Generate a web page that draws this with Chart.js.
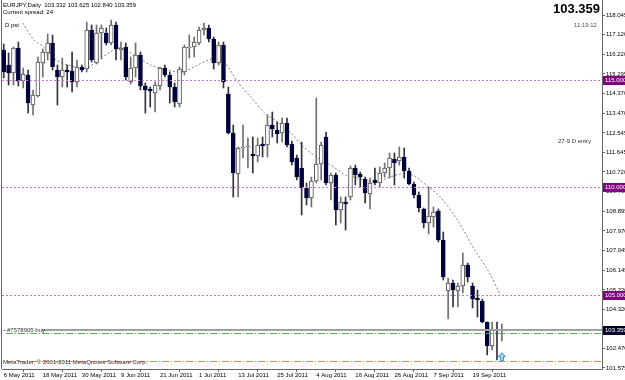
<!DOCTYPE html>
<html>
<head>
<meta charset="utf-8">
<script src="https://cdn.jsdelivr.net/npm/chart.js@4.4.0/dist/chart.umd.min.js"></script>
<style>
  html, body { margin: 0; padding: 0; background: #fff; }
  #wrap { width: 625px; height: 380px; }
</style>
</head>
<body>
<div id="wrap"><canvas id="chart" width="625" height="380"></canvas></div>
<script>
// daily bars, EURJPY, 6 May 2011 -> 22 Sep 2011 (bar index 0..102)
const tickLabels = ['6 May 2011', '18 May 2011', '30 May 2011', '9 Jun 2011', '21 Jun 2011', '1 Jul 2011',
  '13 Jul 2011', '25 Jul 2011', '4 Aug 2011', '16 Aug 2011', '26 Aug 2011', '7 Sep 2011', '19 Sep 2011'];
const tickBars = [0, 8, 16, 24, 32, 40, 48, 56, 64, 72, 80, 88, 96];

const opens = [116.412, 115.712, 115.339, 116.505, 114.965, 115.246, 113.846, 114.266, 115.805, 116.272,
  116.739, 115.479, 115.152, 115.479, 115.432, 114.919, 115.619, 115.526, 117.345, 115.805,
  117.205, 117.205, 116.739, 117.579, 116.412, 116.552, 114.919, 115.572, 116.179, 114.732,
  114.592, 114.406, 114.732, 115.572, 115.246, 114.686, 113.892, 115.386, 116.505, 116.552,
  116.739, 117.345, 117.438, 116.925, 115.805, 116.645, 114.359, 112.539, 110.626, 111.839,
  111.886, 111.559, 111.466, 112.026, 111.979, 112.912, 112.679, 112.539, 113.006, 112.026,
  111.373, 110.906, 109.973, 109.506, 110.300, 111.093, 112.353, 110.206, 110.579, 108.946,
  109.320, 109.553, 110.906, 110.626, 110.393, 109.693, 110.346, 110.206, 110.673, 110.906,
  111.326, 111.233, 111.419, 110.766, 110.160, 109.646, 108.993, 108.340, 108.620, 108.900,
  107.547, 105.167, 105.540, 105.167, 105.400, 106.380, 105.400, 104.840, 104.700, 103.721,
  102.601, 103.347, 103.332];
const highs = [116.692, 116.272, 116.552, 116.785, 115.572, 115.479, 114.546, 116.085, 116.459, 117.159,
  117.112, 115.712, 116.039, 115.712, 116.319, 115.945, 115.712, 117.718, 117.579, 117.579,
  117.579, 117.438, 117.812, 117.718, 116.785, 116.739, 116.085, 116.739, 116.319, 114.872,
  114.686, 114.919, 115.619, 115.712, 115.386, 114.872, 115.619, 116.645, 117.112, 117.019,
  117.485, 117.672, 117.579, 117.019, 116.785, 116.785, 114.686, 112.912, 111.886, 112.912,
  112.306, 112.353, 112.306, 112.353, 113.379, 113.519, 113.052, 113.239, 113.239, 112.166,
  111.513, 112.119, 110.206, 110.486, 114.172, 112.119, 112.586, 110.673, 110.673, 109.553,
  109.553, 111.000, 111.046, 110.720, 110.486, 110.439, 110.906, 110.953, 111.139, 111.606,
  111.606, 111.886, 111.839, 110.906, 110.253, 109.786, 109.040, 110.020, 109.086, 108.993,
  107.920, 105.774, 105.681, 105.540, 106.940, 106.474, 105.540, 105.214, 104.794, 103.721,
  103.721, 103.721, 103.625];
const lows = [115.106, 114.779, 114.779, 114.732, 114.639, 113.472, 113.379, 114.219, 115.152, 115.945,
  115.479, 113.846, 114.686, 114.686, 114.452, 114.686, 115.386, 115.386, 115.852, 115.759,
  116.000, 116.645, 116.645, 115.945, 115.945, 115.012, 114.826, 115.152, 114.546, 113.472,
  113.752, 113.519, 114.546, 115.152, 113.939, 113.752, 113.752, 115.246, 116.039, 116.085,
  116.645, 117.112, 116.785, 115.526, 115.712, 114.639, 112.492, 109.553, 109.553, 111.373,
  110.906, 110.673, 111.186, 111.419, 111.419, 112.353, 112.073, 112.119, 111.886, 111.046,
  110.346, 108.713, 109.180, 109.086, 110.206, 110.346, 110.113, 109.413, 108.247, 108.340,
  108.013, 109.413, 110.113, 110.020, 109.273, 108.993, 110.113, 110.020, 110.486, 110.439,
  110.113, 111.046, 110.439, 110.113, 109.506, 108.853, 108.107, 107.827, 108.153, 107.453,
  105.681, 103.860, 104.420, 104.420, 105.074, 105.587, 104.374, 103.954, 103.674, 102.181,
  102.414, 101.948, 102.840];
const closes = [115.386, 115.339, 116.505, 114.965, 115.292, 113.939, 114.312, 115.852, 116.319, 116.739,
  115.619, 115.152, 115.479, 115.386, 114.919, 115.619, 115.479, 117.345, 115.945, 117.205,
  117.438, 116.739, 117.579, 116.459, 116.505, 115.152, 115.572, 116.179, 114.732, 114.546,
  114.499, 114.779, 115.572, 115.246, 114.686, 113.986, 115.526, 116.552, 116.552, 116.785,
  117.345, 117.438, 116.925, 115.805, 116.645, 114.919, 112.539, 110.673, 111.839, 111.886,
  111.932, 111.466, 111.979, 111.932, 112.912, 112.726, 112.492, 113.006, 111.979, 111.186,
  110.486, 109.973, 109.506, 110.300, 111.093, 111.979, 110.206, 110.579, 108.946, 109.320,
  109.226, 110.906, 110.579, 110.486, 109.740, 110.206, 110.206, 110.673, 110.906, 111.373,
  111.139, 111.419, 110.766, 110.160, 109.646, 109.040, 108.340, 108.666, 108.853, 107.547,
  105.820, 105.540, 105.214, 105.400, 106.380, 105.820, 104.794, 104.747, 103.721, 102.601,
  103.347, 103.301, 103.359];

// dotted "D pst" curve (bar position, price)
const maBars = [3.9, 6.2, 8.2, 10.7, 13.2, 15.8, 17.2, 19.3, 21.9, 23.6, 26.7, 30.1, 33.6, 35.2, 36.9,
  39.7, 42.4, 44.5, 46.1, 47.9, 50.6, 53.2, 56.1, 58.8, 61.4, 64.3, 66.9, 70.0, 71.7, 75.7,
  78.6, 81.3, 83.7, 87.0, 89.4, 92.9, 96.2, 99.1, 101.7];
const maVals = [117.67, 116.88, 116.55, 115.95, 115.71, 115.57, 115.57, 115.95, 116.32, 116.51, 116.18,
  115.71, 115.48, 115.39, 115.39, 115.71, 115.99, 116.04, 115.57, 114.92, 114.22, 113.52, 113.05,
  112.54, 111.89, 111.37, 111.05, 110.58, 110.49, 110.25, 110.44, 110.63, 110.58, 110.02, 109.55,
  108.48, 107.17, 106.15, 104.98];

const priceTicks = [118.045, 117.120, 116.220, 115.295, 114.370, 113.470, 112.545, 111.645, 110.720,
  109.795, 108.895, 107.970, 107.045, 106.145, 105.220, 104.320, 103.395, 102.470, 101.575];
const levels = [115.000, 110.000, 105.000];
const bidPrice = 103.359;
const orderPrice = 103.359;
const takeLevel = 103.207;
const stopLevel = 101.901;

const bull = closes.map((c, i) => c >= opens[i]);

const overlay = {
  id: 'overlay',
  afterDatasetsDraw(chart) {
    const { ctx, chartArea: a, scales: { x, y } } = chart;
    ctx.save();
    // frame on the left
    ctx.strokeStyle = '#666';
    ctx.lineWidth = 1;
    ctx.beginPath(); ctx.moveTo(1.5, 0); ctx.lineTo(1.5, a.bottom); ctx.stroke();

    // horizontal levels
    ctx.strokeStyle = '#cc77cc';
    ctx.setLineDash([2, 2]);
    levels.forEach(v => {
      const py = Math.round(y.getPixelForValue(v)) + 0.5;
      ctx.beginPath(); ctx.moveTo(a.left, py); ctx.lineTo(a.right, py); ctx.stroke();
    });

    // order line and its stops
    let py = Math.round(y.getPixelForValue(takeLevel)) + 0.5;
    ctx.strokeStyle = '#55b055';
    ctx.setLineDash([7, 2, 1, 2]);
    ctx.beginPath(); ctx.moveTo(a.left + 4, py); ctx.lineTo(a.right, py); ctx.stroke();
    py = Math.round(y.getPixelForValue(stopLevel)) + 0.5;
    ctx.strokeStyle = '#f08050';
    ctx.beginPath(); ctx.moveTo(a.left + 4, py); ctx.lineTo(a.right, py); ctx.stroke();
    py = Math.round(y.getPixelForValue(orderPrice));
    ctx.setLineDash([]);
    ctx.strokeStyle = '#a0a0a0';
    ctx.lineWidth = 2;
    ctx.beginPath(); ctx.moveTo(42, py); ctx.lineTo(a.right, py); ctx.stroke();
    ctx.lineWidth = 1;
    ctx.beginPath(); ctx.moveTo(3, py + 0.5); ctx.lineTo(6, py + 0.5); ctx.stroke();

    ctx.font = '6px "Liberation Sans", Arial, sans-serif';
    ctx.textBaseline = 'middle';
    ctx.fillStyle = '#333';
    ctx.fillText('#7578905 buy', 7, py);

    // price boxes on the axis
    const box = (v, bg) => {
      const by = Math.round(y.getPixelForValue(v));
      ctx.fillStyle = bg;
      ctx.fillRect(a.right + 1, by - 4, 24, 9);
      ctx.fillStyle = '#fff';
      ctx.fillText(v.toFixed(3), a.right + 3, by + 0.5);
    };
    levels.forEach(v => box(v, '#800080'));
    box(bidPrice, '#000028');

    // texts
    ctx.fillStyle = '#000';
    ctx.textBaseline = 'top';
    ctx.fillText('EURJPY,Daily  103.332 103.625 102.840 103.359', 3, 2);
    ctx.fillText('Current spread: 24', 3, 9);
    ctx.fillText('D pst', 5, 22);
    ctx.fillStyle = '#333';
    ctx.fillText('27-9 D entry', 558, 138);
    ctx.fillText('MetaTrader, \u00a9 2001-2011 MetaQuotes Software Corp.', 3, 359);
    ctx.fillStyle = '#4a4a66';
    ctx.fillText('11:19:12', 574, 22);
    ctx.fillStyle = '#000';
    ctx.font = 'bold 13px "Liberation Sans", Arial, sans-serif';
    ctx.textAlign = 'right';
    ctx.fillText('103.359', 600, 3);

    // buy arrow under the last bar
    const ax = x.getPixelForValue(102), ay = y.getPixelForValue(102.1);
    ctx.fillStyle = '#9fd3f5';
    ctx.strokeStyle = '#3a8fd0';
    ctx.beginPath();
    ctx.moveTo(ax, ay - 4); ctx.lineTo(ax + 3.5, ay); ctx.lineTo(ax + 1.5, ay);
    ctx.lineTo(ax + 1.5, ay + 4); ctx.lineTo(ax - 1.5, ay + 4); ctx.lineTo(ax - 1.5, ay);
    ctx.lineTo(ax - 3.5, ay); ctx.closePath();
    ctx.fill(); ctx.stroke();
    ctx.restore();
  }
};

new Chart(document.getElementById('chart'), {
  type: 'bar',
  data: {
    datasets: [
      {
        type: 'line',
        data: maBars.map((b, i) => ({ x: b, y: maVals[i] })),
        borderColor: '#808080',
        borderWidth: 1,
        borderDash: [2, 2],
        pointRadius: 0,
        tension: 0.3,
        order: 3
      },
      {
        data: opens.map((o, i) => ({ x: i, y: [lows[i], highs[i]] })),
        backgroundColor: bull.map(b => b ? '#707070' : '#303040'),
        barThickness: 1,
        grouped: false,
        order: 2
      },
      {
        data: opens.map((o, i) => ({ x: i, y: [Math.min(o, closes[i]), Math.max(o, closes[i])] })),
        backgroundColor: bull.map(b => b ? '#ffffff' : '#00003c'),
        borderColor: bull.map(b => b ? '#505050' : '#00003c'),
        borderWidth: 1,
        borderSkipped: false,
        barThickness: 4,
        minBarLength: 1,
        grouped: false,
        order: 1
      }
    ]
  },
  options: {
    responsive: false,
    animation: false,
    devicePixelRatio: 1,
    layout: { padding: { left: 2, top: 0, right: 0, bottom: 0 } },
    plugins: { legend: { display: false }, tooltip: { enabled: false } },
    scales: {
      x: {
        type: 'linear',
        min: -0.35,
        max: 122.5,
        offset: false,
        grid: { drawOnChartArea: false, tickLength: 3, color: '#666' },
        border: { color: '#666' },
        afterBuildTicks: s => { s.ticks = tickBars.map(v => ({ value: v })); },
        afterFit: s => { s.height = 11; s.paddingLeft = 0; s.paddingRight = 0; },
        ticks: {
          autoSkip: false,
          maxRotation: 0,
          align: 'start',
          padding: 0,
          color: '#000',
          font: { size: 6, family: '"Liberation Sans", Arial, sans-serif' },
          callback: (v, i) => tickLabels[i]
        }
      },
      y: {
        position: 'right',
        min: 101.527,
        max: 118.745,
        grid: { drawOnChartArea: false, tickLength: 3, color: '#666' },
        border: { color: '#666' },
        afterBuildTicks: s => { s.ticks = priceTicks.map(v => ({ value: v })); },
        afterFit: s => { s.width = 23; s.paddingTop = 0; s.paddingBottom = 0; },
        ticks: {
          padding: 1,
          color: '#000',
          font: { size: 6, family: '"Liberation Sans", Arial, sans-serif' },
          callback: v => v.toFixed(3)
        }
      }
    }
  },
  plugins: [overlay]
});
</script>
</body>
</html>
